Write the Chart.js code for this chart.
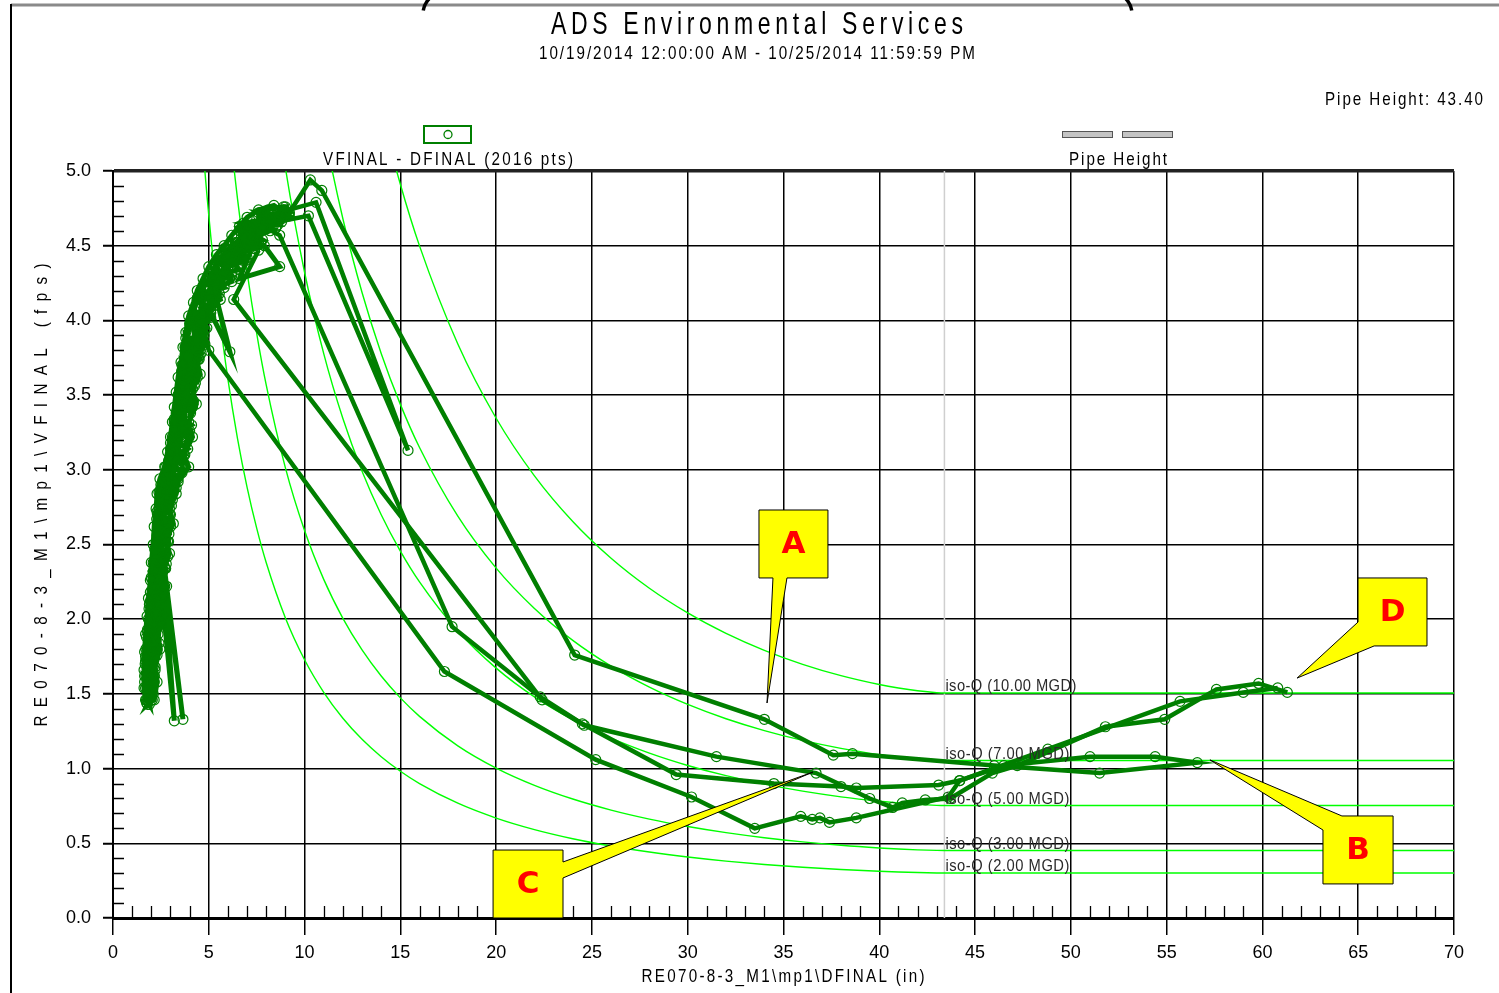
<!DOCTYPE html>
<html lang="en">
<head>
<meta charset="UTF-8">
<title>ADS Environmental Services</title>
<style>
  html, body { margin: 0; padding: 0; background: #fff; }
  .container { width: 1499px; height: 993px; }
</style>
</head>
<body>
<div class="container"><canvas id="myChart"></canvas></div>
<script src="https://cdn.jsdelivr.net/npm/chart.js"></script>
<script>
// ---- data (depth in, velocity fps) ----
const pipeHeight = 43.4;
const isoQ = [10, 7, 5, 3, 2];              // MGD
const isoDepths = [4, 4.5, 5, 5.5, 6, 6.5, 7, 7.5, 8, 9, 10, 11, 12, 13, 14, 15, 16, 18, 20, 22,
                   24, 26, 28, 30, 32, 34, 36, 38, 40, 41, 42, 43, 43.4, 70];

// dry weather band (diurnal cycles)
const dryWeather = [
  // rise, zigzag across band
  [1.75,1.44],[2.10,1.50],[1.65,1.58],[2.20,1.66],[1.70,1.75],[2.40,1.84],[1.80,1.93],[2.60,2.02],
  [1.95,2.12],[2.70,2.22],[2.10,2.32],[2.85,2.42],[2.25,2.52],[3.00,2.62],[2.30,2.72],[3.10,2.80],
  [2.50,2.90],[3.60,2.98],[2.90,3.06],[3.90,3.14],[3.10,3.22],[4.10,3.30],[3.30,3.38],[4.20,3.46],
  [3.50,3.54],[4.40,3.62],[3.65,3.70],[4.60,3.78],[3.90,3.86],[4.90,3.95],[4.20,4.04],[5.30,4.10],
  [4.60,4.18],[5.80,4.22],[5.10,4.29],[6.60,4.34],[5.90,4.44],[7.40,4.48],[6.50,4.52],[8.20,4.60],
  [6.80,4.65],[9.00,4.70],
  // fall
  [8.80,4.66],[7.90,4.63],[8.20,4.71],[7.20,4.53],[7.00,4.64],[6.30,4.40],[6.20,4.50],[5.60,4.27],
  [5.40,4.38],[5.00,4.14],[4.70,4.22],[4.50,3.98],[4.30,4.06],[4.20,3.80],[3.80,3.88],[4.00,3.62],
  [3.60,3.70],[3.80,3.44],[3.40,3.50],[3.60,3.26],[3.20,3.32],[3.40,3.08],[3.00,3.14],[3.20,2.92],
  [2.70,2.96],[2.90,2.76],[2.45,2.82],[2.80,2.58],[2.35,2.64],[2.65,2.40],[2.20,2.46],[2.50,2.22],
  [2.00,2.28],[2.40,2.04],[1.90,2.10],[2.25,1.86],[1.80,1.92],[2.10,1.68],[1.70,1.72],[2.00,1.52],
  [1.75,1.46],[1.90,1.43],
  // rise, centre of band
  [1.85,1.47],[1.90,1.62],[2.05,1.78],[2.15,1.95],[2.30,2.12],[2.45,2.30],[3.20,1.32],[2.60,2.38],
  [3.65,1.33],[2.55,2.48],[2.65,2.66],[2.80,2.84],[3.20,3.00],[3.50,3.18],[3.75,3.36],[3.95,3.54],
  [4.15,3.70],[4.40,3.88],[4.80,4.06],[5.30,4.20],[6.10,3.79],[5.10,4.05],[6.00,4.36],[6.70,4.46],
  [7.90,4.50],[8.70,4.36],[6.60,4.28],[7.50,4.56],[8.30,4.66],[9.20,4.72],
  // fall, right side of band
  [8.90,4.74],[8.00,4.66],[7.20,4.58],[6.50,4.48],[5.80,4.36],[5.40,4.24],[5.00,4.08],[4.70,3.92],
  [4.45,3.74],[4.25,3.56],[4.05,3.38],[3.85,3.20],[3.60,3.02],[3.15,2.86],[2.95,2.70],[2.85,2.52],
  [2.70,2.34],[2.60,2.16],[2.45,1.98],[2.30,1.80],[2.15,1.62],[2.00,1.48],
  // rise, left side of band
  [1.80,1.46],[1.72,1.62],[1.80,1.80],[1.92,1.98],[2.05,2.16],[2.18,2.34],[2.28,2.52],[2.32,2.70],
  [2.45,2.86],[2.85,3.02],[3.10,3.20],[3.35,3.40],[3.55,3.58],[3.76,3.82],[4.00,3.98],[4.40,4.15],
  [5.06,4.29],[5.60,4.42],[6.40,4.52],[7.20,4.62],[8.10,4.74],[8.90,4.76],
  // fall, zigzag
  [9.00,4.76],[8.50,4.62],[7.60,4.70],[7.60,4.52],[6.60,4.60],[6.80,4.42],[5.80,4.48],[6.00,4.28],
  [5.20,4.34],[5.30,4.12],[4.60,4.16],[4.80,3.94],[4.10,4.00],[4.50,3.76],[3.90,3.82],[4.25,3.60],
  [3.70,3.64],[4.05,3.42],[3.50,3.46],[3.80,3.22],[3.25,3.26],[3.55,3.04],[3.00,3.10],[3.30,2.88],
  [2.60,2.92],[3.00,2.70],[2.40,2.74],[2.90,2.52],[2.30,2.56],[2.75,2.34],[2.10,2.38],[2.60,2.14],
  [1.95,2.18],[2.50,1.96],[1.85,2.00],[2.30,1.76],[1.72,1.80],[2.15,1.58],[1.65,1.62],[2.05,1.46],
  [1.80,1.43],
  // rise, zigzag
  [1.95,1.47],[1.70,1.54],[2.15,1.62],[1.68,1.70],[2.30,1.79],[1.75,1.88],[2.50,1.97],[1.88,2.07],
  [2.65,2.17],[2.02,2.27],[2.78,2.37],[2.18,2.47],[2.92,2.57],[2.28,2.67],[3.05,2.76],[2.40,2.85],
  [3.40,2.94],[2.75,3.02],[3.75,3.10],[3.00,3.18],[4.00,3.26],[3.20,3.34],[4.15,3.42],[3.40,3.50],
  [4.30,3.58],[3.58,3.66],[4.50,3.74],[3.78,3.82],[4.75,3.90],[4.05,4.00],[5.10,4.07],[4.40,4.14],
  [5.55,4.18],[4.90,4.26],[6.20,4.30],[5.50,4.40],[7.00,4.42],[6.20,4.50],[7.80,4.54],[6.70,4.62],
  [8.60,4.64],[7.60,4.72],[9.20,4.70],
  // fall, left edge
  [8.40,4.77],[7.60,4.74],[7.00,4.69],[6.60,4.63],[6.20,4.57],[5.80,4.50],[5.40,4.44],[5.00,4.36],
  [4.70,4.28],[4.40,4.20],[4.20,4.12],[3.95,4.03],[3.80,3.92],[3.65,3.82],[3.55,3.72],[3.40,3.62],
  [3.30,3.52],[3.20,3.42],[3.10,3.32],[3.00,3.22],[2.85,3.12],[2.70,3.02],[2.45,2.94],[2.30,2.84],
  [2.25,2.74],[2.15,2.62],[2.10,2.50],[2.00,2.38],[1.95,2.26],[1.85,2.14],[1.78,2.02],[1.70,1.90],
  [1.65,1.78],[1.62,1.66],[1.62,1.54],[1.70,1.46],
  // rise, right edge
  [2.15,1.46],[2.30,1.58],[2.20,1.68],[2.45,1.80],[2.35,1.90],[2.65,2.00],[2.50,2.10],[2.80,2.22],
  [2.60,2.32],[2.95,2.44],[2.75,2.54],[3.15,2.64],[2.95,2.74],[3.30,2.84],[3.40,2.92],[3.95,3.02],
  [3.70,3.10],[4.15,3.22],[3.95,3.32],[4.35,3.44],[4.15,3.54],[4.55,3.64],[4.35,3.74],[4.80,3.84],
  [4.60,3.94],[5.10,4.02],[4.95,4.10],[5.60,4.14],[5.40,4.22],[6.20,4.26],[6.00,4.36],[6.90,4.40],
  [6.80,4.48],[7.70,4.52],[7.60,4.58],[8.50,4.62],[8.80,4.68],
  // fall, centre-left
  [8.60,4.72],[8.20,4.66],[7.30,4.64],[7.30,4.56],[6.40,4.52],[6.50,4.44],[5.70,4.40],[5.80,4.32],
  [5.10,4.28],[5.20,4.20],[4.60,4.14],[4.70,4.04],[4.20,3.96],[4.30,3.86],[3.90,3.76],[4.05,3.66],
  [3.70,3.56],[3.85,3.46],[3.50,3.36],[3.65,3.26],[3.25,3.16],[3.40,3.06],[2.90,2.96],[2.95,2.86],
  [2.55,2.76],[2.70,2.66],[2.40,2.56],[2.55,2.46],[2.25,2.36],[2.40,2.26],[2.10,2.14],[2.25,2.04],
  [1.95,1.92],[2.10,1.82],[1.85,1.70],[2.00,1.60],[1.85,1.50]
];

// wet weather excursions
const stormA = [[9.2,4.72],[10.3,4.94],[10.9,4.87],[24.1,1.76],[34.0,1.33],[37.6,1.09],[38.6,1.10],
  [46.0,1.02],[51.5,0.97],[56.6,1.04],[54.4,1.08],[51.0,1.08],[46.5,1.02],[44.2,0.92],[43.1,0.89],
  [38.8,0.87],[38.0,0.88],[34.5,0.90],[29.4,0.96],[24.5,1.30],[22.3,1.48],[17.7,1.95],[8.7,4.57],[8.0,4.62]];
const stormB = [[7.6,4.47],[6.3,4.14],[22.4,1.46],[24.6,1.29],[31.5,1.08],[36.7,0.97],[39.5,0.80],
  [40.7,0.74],[41.2,0.77],[42.4,0.79],[43.7,0.80],[45.9,0.97],[47.2,1.02],[51.8,1.28],[54.9,1.33],
  [57.6,1.53],[59.8,1.57],[61.3,1.51]];
const stormC = [[4.6,4.02],[5.0,3.80],[17.3,1.65],[25.2,1.06],[30.2,0.81],[33.5,0.60],[35.9,0.68],
  [36.5,0.66],[36.9,0.67],[37.4,0.64],[38.8,0.67],[43.6,0.81],[44.2,0.92],[48.8,1.13],[55.7,1.45],
  [59.0,1.51],[60.8,1.54]];
const stormD = [[8.3,4.71],[10.6,4.79],[15.4,3.13],[10.2,4.70],[8.6,4.66]];

// callouts (polygon outline in data units, letter)
const callouts = [
  { label: 'A', poly: [[33.72,2.731],[37.32,2.731],[37.32,2.276],[35.18,2.276],[34.14,1.439],[34.45,2.276],[33.72,2.276]] },
  { label: 'B', poly: [[64.15,0.683],[66.82,0.683],[66.82,0.228],[63.16,0.228],[63.16,0.589],[57.26,1.058]] },
  { label: 'C', poly: [[19.84,0.455],[23.49,0.455],[23.49,0.375],[36.54,0.977],[23.49,0.268],[23.49,0],[19.84,0]] },
  { label: 'D', poly: [[64.99,2.276],[68.59,2.276],[68.59,1.821],[65.83,1.821],[61.81,1.606],[64.99,1.981]] }
];
const calloutBoxes = { A: [33.72,2.731,37.32,2.276], B: [63.16,0.683,66.82,0.228], C: [19.84,0.455,23.49,0], D: [64.99,2.276,68.59,1.821] };

// ---- helpers ----
const textFont = "'Liberation Sans', Arial, sans-serif";
const dataGreen = '#007f00';

function flowArea(d) {            // partially full circular pipe, ft²
  const r = pipeHeight / 24;
  const h = Math.min(d, pipeHeight) / 12;
  const th = Math.acos((r - h) / r);
  return r * r * th - (r - h) * Math.sqrt(2 * r * h - h * h);
}
function isoVelocity(q, d) { return q * 1.547 / flowArea(d); }

function pts(arr) { return arr.map(p => ({ x: p[0], y: p[1] })); }

function drawSpaced(ctx, txt, x, y, o) {
  ctx.save();
  ctx.font = `${o.bold ? 'bold ' : ''}${o.size}px ${o.family || textFont}`;
  ctx.fillStyle = o.color || '#000';
  ctx.textBaseline = 'middle';
  ctx.textAlign = 'left';
  ctx.letterSpacing = '0px';
  const natural = ctx.measureText(txt).width;
  const sx = o.sx || 1;
  const w = o.width ? o.width / sx : natural;
  const gap = o.width ? (w - natural) / (txt.length - 1) : 0;
  ctx.letterSpacing = gap + 'px';
  ctx.translate(x, y);
  if (o.rot) ctx.rotate(o.rot);
  ctx.scale(sx, 1);
  const start = o.align === 'right' ? -w : o.align === 'left' ? 0 : -w / 2;
  ctx.fillText(txt, start, 0);
  ctx.restore();
}

// ---- datasets ----
const dataStyle = {
  showLine: true, borderColor: dataGreen, borderWidth: 4.5, tension: 0,
  pointRadius: 5, pointBorderWidth: 1.2, pointBorderColor: dataGreen,
  pointBackgroundColor: 'rgba(0,0,0,0)', order: 1
};
const datasets = [];
[dryWeather, stormA, stormB, stormC, stormD].forEach((s, i) => {
  datasets.push(Object.assign({ data: pts(s) }, dataStyle, i === 0 ? { borderWidth: 5 } : {}));
});
isoQ.forEach(q => {
  datasets.push({
    data: isoDepths.map(d => ({ x: d, y: isoVelocity(q, d) })),
    showLine: true, borderColor: '#00ff00', borderWidth: 1.4, pointRadius: 0,
    cubicInterpolationMode: 'monotone', order: 3
  });
});
datasets.push({
  data: [{ x: pipeHeight, y: 0 }, { x: pipeHeight, y: 5 }],
  showLine: true, borderColor: '#cfcfcf', borderWidth: 1.5, pointRadius: 0, order: 4
});

// ---- plugins ----
const background = {
  id: 'background',
  beforeDraw(chart) {
    const { ctx, width, height } = chart;
    ctx.save();
    ctx.fillStyle = '#fff';
    ctx.fillRect(0, 0, width, height);
    ctx.restore();
  }
};

const minorTicks = {
  id: 'minorTicks',
  beforeDatasetsDraw(chart) {
    const { ctx, chartArea, scales: { x, y } } = chart;
    ctx.save();
    ctx.strokeStyle = '#000';
    ctx.lineWidth = 1.3;
    ctx.beginPath();
    for (let v = 1; v < 70; v++) {
      if (v % 5 === 0) continue;
      const px = Math.round(x.getPixelForValue(v)) + 0.5;
      ctx.moveTo(px, chartArea.bottom);
      ctx.lineTo(px, chartArea.bottom - 12);
    }
    for (let i = 1; i < 50; i++) {
      if (i % 5 === 0) continue;
      const py = Math.round(y.getPixelForValue(i / 10)) + 0.5;
      ctx.moveTo(chartArea.left, py);
      ctx.lineTo(chartArea.left + 11, py);
    }
    ctx.stroke();
    ctx.restore();
  }
};

const isoLabels = {
  id: 'isoLabels',
  afterDatasetsDraw(chart) {
    const { ctx, scales: { x, y } } = chart;
    const px = x.getPixelForValue(pipeHeight) + 1;
    isoQ.forEach(q => {
      const py = y.getPixelForValue(isoVelocity(q, pipeHeight)) - 6;
      const txt = `iso-Q (${q.toFixed(2)} MGD)`;
      drawSpaced(ctx, txt, px, py, { size: 16, sx: 0.92, width: q >= 10 ? 131 : 124, align: 'left', color: '#2a2a2a' });
    });
  }
};

const calloutPlugin = {
  id: 'callouts',
  afterDatasetsDraw(chart) {
    const { ctx, scales: { x, y } } = chart;
    callouts.forEach(c => {
      ctx.save();
      ctx.beginPath();
      c.poly.forEach((p, i) => {
        const px = x.getPixelForValue(p[0]), py = y.getPixelForValue(p[1]);
        if (i === 0) ctx.moveTo(px, py); else ctx.lineTo(px, py);
      });
      ctx.closePath();
      ctx.fillStyle = '#ffff00';
      ctx.fill();
      ctx.strokeStyle = '#000';
      ctx.lineWidth = 1;
      ctx.stroke();
      const b = calloutBoxes[c.label];
      const cx = (x.getPixelForValue(b[0]) + x.getPixelForValue(b[2])) / 2;
      const cy = (y.getPixelForValue(b[1]) + y.getPixelForValue(b[3])) / 2;
      ctx.font = "bold 31px 'DejaVu Sans', Verdana, sans-serif";
      ctx.fillStyle = '#ff0000';
      ctx.textAlign = 'center';
      ctx.textBaseline = 'middle';
      ctx.fillText(c.label, cx, cy + 1);
      ctx.restore();
    });
  }
};

const headerText = {
  id: 'headerText',
  afterDraw(chart) {
    const { ctx } = chart;
    // outer frame fragments
    ctx.save();
    ctx.strokeStyle = '#8a8a8a';
    ctx.lineWidth = 3;
    ctx.beginPath(); ctx.moveTo(11, 5); ctx.lineTo(1499, 5); ctx.stroke();
    ctx.strokeStyle = '#000';
    ctx.lineWidth = 2;
    ctx.beginPath(); ctx.moveTo(11, 4); ctx.lineTo(11, 993); ctx.stroke();
    ctx.lineWidth = 3.5;
    ctx.beginPath(); ctx.arc(445, 14, 22, Math.PI * 1.05, Math.PI * 1.25); ctx.stroke();
    ctx.beginPath(); ctx.arc(1110, 14, 22, -Math.PI * 0.25, -Math.PI * 0.05); ctx.stroke();
    ctx.restore();

    drawSpaced(ctx, 'ADS Environmental Services', 757, 25, { size: 32, sx: 0.72, width: 412 });
    drawSpaced(ctx, '10/19/2014 12:00:00 AM - 10/25/2014 11:59:59 PM', 757, 54, { size: 19, sx: 0.8, width: 436 });
    drawSpaced(ctx, 'Pipe Height: 43.40', 1483, 100, { size: 19, sx: 0.8, width: 158, align: 'right' });

    // legend
    ctx.save();
    ctx.strokeStyle = dataGreen;
    ctx.lineWidth = 2;
    ctx.strokeRect(424, 126, 47, 17);
    ctx.lineWidth = 1.3;
    ctx.beginPath(); ctx.arc(448, 134.5, 4, 0, Math.PI * 2); ctx.stroke();
    ctx.fillStyle = '#c4c4c4';
    ctx.strokeStyle = '#555';
    ctx.lineWidth = 1;
    ctx.fillRect(1062, 131, 50, 6); ctx.strokeRect(1062.5, 131.5, 50, 6);
    ctx.fillRect(1122, 131, 50, 6); ctx.strokeRect(1122.5, 131.5, 50, 6);
    ctx.restore();
    drawSpaced(ctx, 'VFINAL - DFINAL (2016 pts)', 448, 160, { size: 19, sx: 0.8, width: 250 });
    drawSpaced(ctx, 'Pipe Height', 1118, 160, { size: 19, sx: 0.8, width: 98 });

    // axis titles
    drawSpaced(ctx, 'RE070-8-3_M1\\mp1\\DFINAL (in)', 783, 977, { size: 19, sx: 0.8, width: 283 });
    drawSpaced(ctx, 'RE070-8-3_M1\\mp1\\VFINAL (fps)', 42, 495, { size: 19, sx: 0.8, width: 463, rot: -Math.PI / 2 });
  }
};

// ---- chart ----
const tickFont = { family: "'Liberation Sans Narrow', 'Liberation Sans', Arial, sans-serif", size: 18 };
const ctx = document.querySelector('#myChart').getContext('2d');
new Chart(ctx, {
  type: 'scatter',
  data: { datasets },
  plugins: [background, minorTicks, isoLabels, calloutPlugin, headerText],
  options: {
    responsive: true,
    maintainAspectRatio: false,
    animation: false,
    layout: { padding: { left: 0, top: 171, right: 45, bottom: 0 } },
    plugins: { legend: { display: false }, tooltip: { enabled: false } },
    scales: {
      x: {
        type: 'linear', min: 0, max: 70,
        afterFit(scale) { scale.height = 75; },
        ticks: { stepSize: 5, color: '#000', font: tickFont, padding: 7, maxRotation: 0 },
        grid: { color: '#000', lineWidth: 1.5, drawTicks: true, tickLength: 17, tickColor: '#000', tickWidth: 1.5 },
        border: { display: true, color: '#000', width: 3 }
      },
      y: {
        type: 'linear', min: 0, max: 5,
        afterFit(scale) { scale.width = 113; },
        ticks: { stepSize: 0.5, color: '#000', font: tickFont, padding: 12, callback: v => v.toFixed(1) },
        grid: {
          color: ctx => ctx.tick && ctx.tick.value === 5 ? '#222' : '#000',
          lineWidth: ctx => ctx.tick && ctx.tick.value === 5 ? 3.5 : 1.5,
          drawTicks: true, tickLength: 10, tickColor: '#000', tickWidth: 2
        },
        border: { display: true, color: '#000', width: 2 }
      }
    }
  }
});
</script>
</body>
</html>
